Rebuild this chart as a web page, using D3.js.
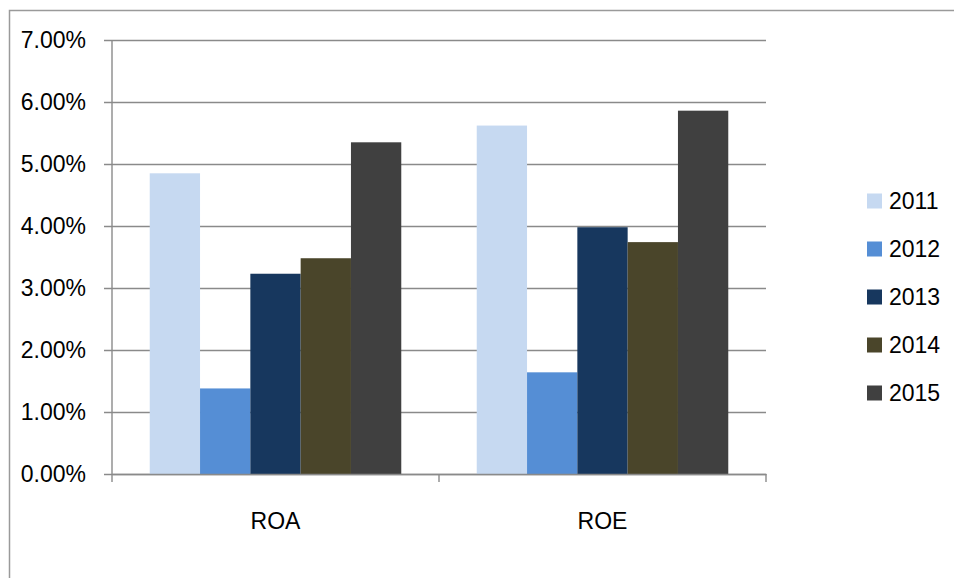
<!DOCTYPE html>
<html>
<head>
<meta charset="utf-8">
<script src="https://cdn.jsdelivr.net/npm/d3@7"></script>
<style>
  html, body { margin: 0; padding: 0; background: #fff; }
  svg { display: block; font-family: "Liberation Sans", Arial, sans-serif; }
</style>
</head>
<body>
<svg id="chart" width="954" height="578"></svg>
<script>
// Profitability ratios by year
const categories = ["ROA", "ROE"];
const years = ["2011", "2012", "2013", "2014", "2015"];
const roaValues = [4.85, 1.38, 3.23, 3.48, 5.35];
const roeValues = [5.62, 1.64, 3.98, 3.74, 5.86];
const yearColors = ["#C6D9F1", "#558ED5", "#17375E", "#4A452A", "#404040"];
const yTicks = [0, 1, 2, 3, 4, 5, 6, 7];

const seriesByCategory = { ROA: roaValues, ROE: roeValues };

const svg = d3.select("#chart");
const plot = { left: 112, right: 766, top: 40, bottom: 474 };
const gridColor = "#8a8a8a";

// outer chart frame (left and top edges)
svg.append("path")
  .attr("d", `M9.5,578 V10.5 H954`)
  .attr("fill", "none")
  .attr("stroke", "#9a9a9a")
  .attr("stroke-width", 1.5);

const y = d3.scaleLinear().domain([0, 7]).range([plot.bottom, plot.top]);
const x0 = d3.scaleBand().domain(categories).range([plot.left, plot.right]).padding(0);
const x1 = d3.scaleBand().domain(years).range([0, x0.bandwidth()])
  .paddingInner(0).paddingOuter(0.75);
const color = d3.scaleOrdinal().domain(years).range(yearColors);

// horizontal gridlines with left tick stubs
const yAxis = d3.axisLeft(y)
  .tickValues(yTicks)
  .tickSize(-(plot.right - plot.left))
  .tickFormat(d => d.toFixed(2) + "%");
const yg = svg.append("g")
  .attr("transform", `translate(${plot.left},0)`)
  .call(yAxis);
yg.select(".domain").remove();
yg.selectAll(".tick line")
  .attr("x1", -8)
  .attr("stroke", gridColor)
  .attr("stroke-width", 1.4);
yg.selectAll(".tick text")
  .attr("x", -26)
  .attr("fill", "#000")
  .attr("font-size", 23)
  .attr("font-family", "'Liberation Sans', Arial, sans-serif");

// bars
const groups = svg.append("g").selectAll("g")
  .data(categories)
  .join("g")
  .attr("transform", d => `translate(${x0(d)},0)`);

groups.selectAll("rect")
  .data(c => years.map((yr, i) => ({ yr, v: seriesByCategory[c][i] })))
  .join("rect")
  .attr("x", d => x1(d.yr))
  .attr("width", x1.bandwidth())
  .attr("y", d => y(d.v))
  .attr("height", d => y(0) - y(d.v))
  .attr("fill", d => color(d.yr));

// value axis line
svg.append("line")
  .attr("x1", plot.left).attr("x2", plot.left)
  .attr("y1", plot.top).attr("y2", plot.bottom)
  .attr("stroke", gridColor).attr("stroke-width", 1.4);

// category axis
const xAxis = d3.axisBottom(x0).tickSize(0).tickSizeOuter(0);
const xg = svg.append("g")
  .attr("transform", `translate(0,${plot.bottom})`)
  .call(xAxis);
xg.select(".domain").attr("stroke", gridColor).attr("stroke-width", 1.6);
xg.selectAll(".tick text")
  .attr("dy", 0)
  .attr("y", 55)
  .attr("fill", "#000")
  .attr("font-size", 23)
  .attr("font-family", "'Liberation Sans', Arial, sans-serif");

// category boundary tick marks
const boundaries = categories.map(c => x0(c)).concat([plot.right]);
svg.append("g").selectAll("line")
  .data(boundaries)
  .join("line")
  .attr("x1", d => d).attr("x2", d => d)
  .attr("y1", plot.bottom).attr("y2", plot.bottom + 8)
  .attr("stroke", gridColor).attr("stroke-width", 1.4);

// legend
const legend = svg.append("g").attr("transform", "translate(867,201)");
const item = legend.selectAll("g")
  .data(years)
  .join("g")
  .attr("transform", (d, i) => `translate(0,${i * 48})`);
item.append("rect")
  .attr("x", 0).attr("y", -7.5)
  .attr("width", 15).attr("height", 15)
  .attr("fill", d => color(d));
item.append("text")
  .attr("x", 22).attr("y", 0)
  .attr("dy", "0.36em")
  .attr("font-size", 23)
  .attr("fill", "#000")
  .text(d => d);
</script>
</body>
</html>
